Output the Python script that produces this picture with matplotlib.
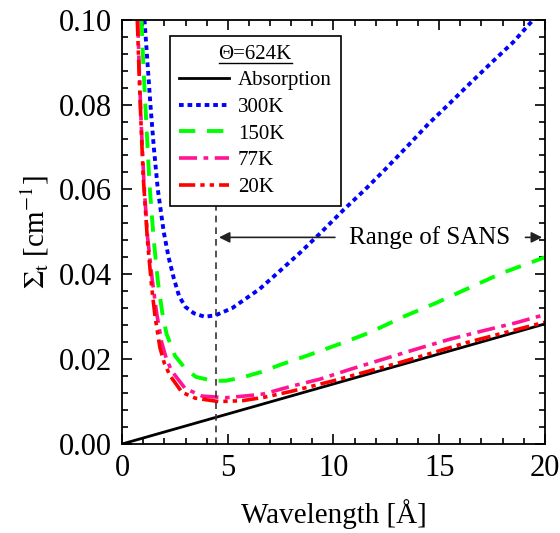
import matplotlib
matplotlib.use("Agg")
import matplotlib.pyplot as plt
from matplotlib.lines import Line2D

plt.rcParams['font.family'] = ['Liberation Serif', 'DejaVu Serif']
plt.rcParams['mathtext.fontset'] = 'stix'

# values (wavelength in A, Sigma_t in 1/cm)
abs_wl = [0.0, 20.0]
abs_sig = [0.0, 0.0283]

k300_wl = [1.06, 1.2, 1.34, 1.5, 1.69, 1.97, 2.2, 2.45, 2.7, 3.0, 3.4, 3.9, 4.4, 5.2,
           6.5, 7.4, 8.4, 9.4, 10.5, 11.5, 12.5, 13.5, 14.5, 15.5, 16.5, 17.5, 18.5, 19.45]
k300_sig = [0.100, 0.090, 0.080, 0.070, 0.060, 0.050, 0.044, 0.039, 0.0348, 0.0323, 0.0308,
            0.0300, 0.0303, 0.0320, 0.0365, 0.0405, 0.0450, 0.0498, 0.0553, 0.0600, 0.0650,
            0.0702, 0.0755, 0.0803, 0.0852, 0.0900, 0.0947, 0.1000]

k150_wl = [0.92, 1.0, 1.1, 1.3, 1.5, 1.7, 1.9, 2.1, 2.5, 3.0, 3.5, 4.3, 4.9, 5.7, 6.6,
           7.5, 8.74, 10.47, 11.73, 13.31, 14.88, 16.46, 18.03, 20.0]
k150_sig = [0.100, 0.090, 0.080, 0.061, 0.048, 0.038, 0.031, 0.026, 0.0208, 0.0177, 0.0158,
            0.0149, 0.0149, 0.0157, 0.0170, 0.0187, 0.0208, 0.0239, 0.0263, 0.0300, 0.0333,
            0.0369, 0.0404, 0.0440]

k77_wl = [0.74, 0.8, 0.9, 1.03, 1.2, 1.42, 1.63, 1.87, 2.1, 2.35, 2.98, 3.78, 4.9, 6.0, 6.7,
          8.0, 9.37, 10.79, 12.36, 13.94, 15.51, 17.09, 18.66, 20.0]
k77_sig = [0.100, 0.090, 0.076, 0.062, 0.049, 0.039, 0.031, 0.024, 0.020, 0.0172, 0.0131,
           0.0113, 0.0109, 0.0114, 0.0118, 0.0136, 0.0153, 0.0176, 0.0200, 0.0224, 0.0247,
           0.0267, 0.0286, 0.0305]

k20_wl = [0.72, 0.8, 0.9, 1.0, 1.2, 1.4, 1.56, 1.79, 2.0, 2.27, 2.83, 3.46, 4.57, 5.68, 6.71,
          8.0, 10.0, 13.15, 16.3, 20.0]
k20_sig = [0.100, 0.088, 0.075, 0.063, 0.048, 0.037, 0.030, 0.0227, 0.019, 0.0161, 0.0122,
           0.0108, 0.0100, 0.0102, 0.0110, 0.0124, 0.0149, 0.0192, 0.0239, 0.0287]

sans_start = 4.45

fig = plt.figure(figsize=(5.6, 5.33), dpi=100)
ax = fig.add_axes([0.218, 0.167, 0.755, 0.796])

ax.plot(abs_wl, abs_sig, color='black', lw=2, label='Absorption')
ax.plot(k300_wl, k300_sig, color='#0000ff', lw=2.8, ls=(0, (1.2, 1.0)), label='300K')
ax.plot(k150_wl, k150_sig, color='#00ff00', lw=2.8, ls=(0, (4.2, 3.0)), label='150K')
ax.plot(k77_wl, k77_sig, color='#ff1493', lw=2.6, ls=(0, (5.0, 1.8, 1.3, 1.8)), label='77K')
ax.plot(k20_wl, k20_sig, color='#ff0000', lw=2.6,
        ls=(0, (4.5, 1.4, 1.2, 1.4, 1.2, 1.4)), label='20K')

ax.set_xlim(0, 20)
ax.set_ylim(0, 0.10)
ax.set_xticks([0, 5, 10, 15, 20])
ax.set_yticks([0.0, 0.02, 0.04, 0.06, 0.08, 0.10])
ax.set_yticklabels(['0.00', '0.02', '0.04', '0.06', '0.08', '0.10'])
ax.set_xticks(range(0, 21), minor=True)
ax.set_yticks([i * 0.004 for i in range(26)], minor=True)
ax.tick_params(which='both', direction='in', top=True, right=True, width=1.2,
               labelsize=22, pad=7)
ax.tick_params(which='major', length=7)
ax.tick_params(which='minor', length=4)
for s in ax.spines.values():
    s.set_linewidth(1.3)

ax.set_xlabel('Wavelength [Å]', fontsize=21, labelpad=12)
ax.set_ylabel(r'$\Sigma_\mathrm{t}$ [cm$^{\mathrm{-1}}$]', fontsize=21, labelpad=6)

# SANS range marker
ax.plot([sans_start, sans_start], [0, 0.0575], color='#333333', lw=1.2, ls=(0, (4, 3)))
ax.annotate('', xy=(sans_start, 0.0487), xytext=(10.2, 0.0487),
            arrowprops=dict(arrowstyle='-|>', color='#222222', lw=1.2, mutation_scale=16))
ax.annotate('', xy=(20, 0.0487), xytext=(18.95, 0.0487),
            arrowprops=dict(arrowstyle='-|>', color='#222222', lw=1.2, mutation_scale=16))
ax.text(14.55, 0.0487, 'Range of SANS', fontsize=18, ha='center', va='center')

leg = ax.legend(loc='upper left', bbox_to_anchor=(0.113, 0.962), fontsize=15,
                title='Θ=624K', title_fontsize=15, fancybox=False, edgecolor='black',
                framealpha=1, handlelength=2.4, handletextpad=0.45, labelspacing=0.34,
                borderpad=0.42, borderaxespad=0)
leg.get_frame().set_linewidth(1.2)

# underline the legend title
fig.canvas.draw()
bb = leg.get_title().get_window_extent().transformed(fig.transFigure.inverted())
fig.add_artist(Line2D([bb.x0, bb.x1], [bb.y0 + 0.001, bb.y0 + 0.001],
                      transform=fig.transFigure, color='black', lw=1))

fig.savefig('out.png', dpi=100)
